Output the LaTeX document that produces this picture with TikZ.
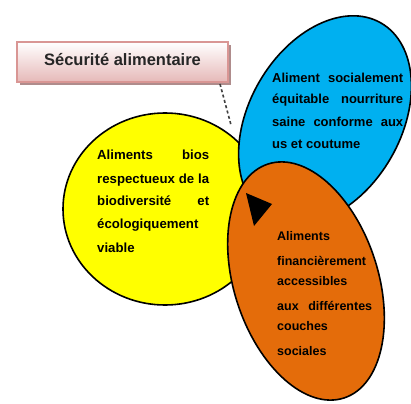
\documentclass[tikz,border=0pt]{standalone}
\usepackage{fontspec}
\setmainfont{Liberation Sans}
\usetikzlibrary{shapes.geometric}
\definecolor{ylw}{HTML}{FFFF00}
\definecolor{blu}{HTML}{00B0F0}
\definecolor{org}{HTML}{E46C0A}
\definecolor{boxline}{HTML}{D99694}
\definecolor{boxbot}{HTML}{E6B9B8}
\definecolor{boxshade}{RGB}{175,140,140}
\begin{document}
\begin{tikzpicture}[x=1pt,y=-1pt,
  blob/.style={draw=black,line width=1.6pt,ellipse,inner sep=0pt},
  ytxt/.style={anchor=base west,inner sep=0pt,font=\bfseries\fontsize{13.2}{15}\selectfont},
  btxt/.style={anchor=base west,inner sep=0pt,font=\bfseries\fontsize{13}{15}\selectfont},
  otxt/.style={anchor=base west,inner sep=0pt,font=\bfseries\fontsize{12.5}{15}\selectfont},
  titlebox/.style={draw=boxline,line width=2.5pt,top color=white,bottom color=boxbot,minimum width=211pt,minimum height=40pt,inner sep=0pt},
  shadowbox/.style={fill=boxshade,minimum width=211pt,minimum height=40pt,inner sep=0pt},
  pointer/.style={draw=black!75,line width=1.6pt,dash pattern=on 3pt off 2.5pt},
]
\useasboundingbox (0,0) rectangle (411,403);
\fill[white] (0,0) rectangle (411,403);
% circles
\node[blob,fill=ylw,minimum width=204pt,minimum height=192pt] (yel) at (165,209) {};
\node[blob,fill=blu,minimum width=224pt,minimum height=152pt,rotate=60] (blue) at (325,120) {};
\node[blob,fill=org,minimum width=144pt,minimum height=246pt,rotate=18] (orange) at (306,281) {};
% arrow head
\coordinate (t1) at (246,193);
\coordinate (t2) at (272,204);
\coordinate (t3) at (254,226);
\fill[black] (t1) -- (t2) -- (t3) -- cycle;
% title box
\node[shadowbox] (boxshadow) at (125.5,65) {};
\node[titlebox] (box) at (122.5,62) {};
\node[anchor=base,inner sep=0pt,font=\bfseries\fontsize{16.5}{18}\selectfont,text=black!85] (title) at (122.5,66) {Sécurité alimentaire};
\coordinate (pstart) at (220,84);
\coordinate (pend) at (231,125);
\draw[pointer] (pstart) -- (pend);
% yellow text
\node[ytxt] (y1) at (97,160) {\makebox[112pt][s]{Aliments bios}};
\node[ytxt] (y2) at (97,183) {\makebox[112pt][s]{respectueux de la}};
\node[ytxt] (y3) at (97,205) {\makebox[112pt][s]{biodiversité et}};
\node[ytxt] (y4) at (97,228) {écologiquement};
\node[ytxt] (y5) at (97,252) {viable};
% blue text
\node[btxt] (b1) at (272,83) {\makebox[131pt][s]{Aliment socialement}};
\node[btxt] (b2) at (272,104) {\makebox[131pt][s]{équitable nourriture}};
\node[btxt] (b3) at (272,127) {\makebox[131pt][s]{saine conforme aux}};
\node[btxt] (b4) at (272,149) {us et coutume};
% orange text
\node[otxt] (o1) at (277,240) {Aliments};
\node[otxt] (o2) at (277,265) {financièrement};
\node[otxt] (o3) at (277,285) {accessibles};
\node[otxt] (o4) at (277,310) {\makebox[95pt][s]{aux différentes}};
\node[otxt] (o5) at (277,330) {couches};
\node[otxt] (o6) at (277,355) {sociales};
\end{tikzpicture}
\end{document}
